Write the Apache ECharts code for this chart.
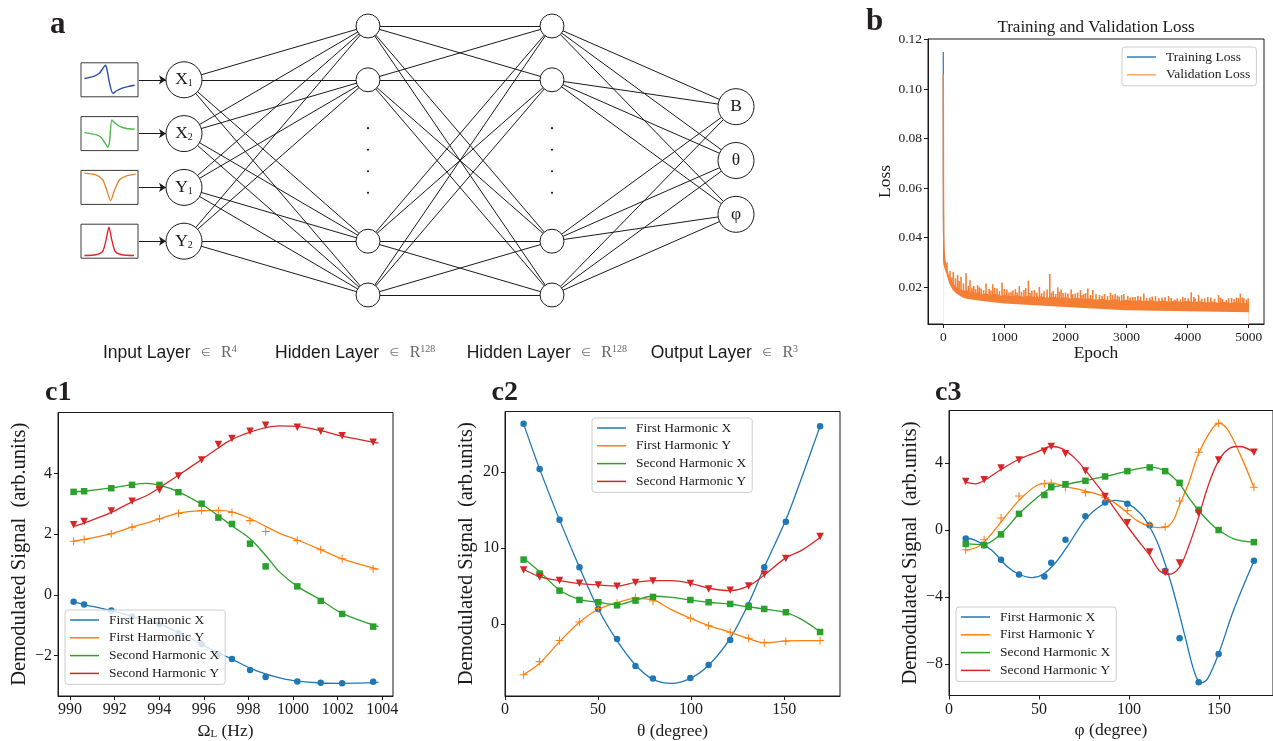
<!DOCTYPE html>
<html>
<head>
<meta charset="utf-8">
<script src="https://cdn.jsdelivr.net/npm/echarts@6/dist/echarts.min.js"></script>
<style>
  html, body { margin: 0; padding: 0; background: #fff; }
  #main { width: 1273px; height: 741px; }
</style>
</head>
<body>
<div id="main"></div>
<script>
// ---- panel a: network ----
const inputNames = ['X1', 'X2', 'Y1', 'Y2'];
const inputRows = [0, 1, 2, 3];
const hiddenRows = [-1, 0, 3, 4];
const outputNames = ['B', 'θ', 'φ'];
const outputRows = [0.5, 1.5, 2.5];
const ellipsisRows = [0.9, 1.3, 1.7, 2.1];
const layerLabels = [['Input Layer', '4'], ['Hidden Layer', '128'], ['Hidden Layer', '128'], ['Output Layer', '3']];

// input signal thumbnails (x 0..10, y as fraction of box height)
const iconX1 = [[0.6, 0.54], [2.35, 0.61], [3.2, 0.69], [3.9, 0.85], [4.3, 0.93], [4.5, 0.85], [5.0, 0.41], [5.6, 0.10], [6.2, 0.17], [7.1, 0.25], [8.2, 0.30], [9.4, 0.34]];
const iconX2 = [[0.6, 0.53], [2.6, 0.47], [3.5, 0.39], [4.3, 0.20], [4.7, 0.10], [5.0, 0.26], [5.4, 0.90], [5.9, 0.82], [6.8, 0.71], [8.0, 0.65], [9.4, 0.63]];
const iconY1 = [[0.6, 0.92], [2.6, 0.87], [3.8, 0.73], [4.5, 0.43], [5.2, 0.11], [5.9, 0.43], [6.8, 0.73], [8.0, 0.84], [9.6, 0.89]];
const iconY2 = [[0.6, 0.08], [2.6, 0.10], [3.8, 0.20], [4.4, 0.54], [4.9, 0.91], [5.4, 0.54], [6.0, 0.20], [7.1, 0.10], [9.3, 0.08]];

// ---- panel b: loss ----
const trainLoss = [[0, 0.115], [1, 0.09], [3, 0.05], [6, 0.036], [10, 0.031], [20, 0.029], [40, 0.026], [70, 0.022], [100, 0.0205], [150, 0.0185], [250, 0.0165], [400, 0.0152], [700, 0.0142], [1000, 0.0133], [1500, 0.0126], [2000, 0.0119], [2500, 0.0112], [3000, 0.0106], [4000, 0.0102], [5000, 0.0099]];
// upper edge of the dense part of the validation band
const valLossTop = [[0, 0.1063], [3, 0.06], [6, 0.042], [10, 0.036], [16, 0.034], [25, 0.031], [35, 0.0295], [45, 0.03], [55, 0.027], [70, 0.0265], [85, 0.0245], [100, 0.024], [120, 0.0225], [140, 0.0228], [160, 0.021], [185, 0.0212], [210, 0.0198], [240, 0.02], [270, 0.019], [300, 0.0192], [340, 0.0182], [380, 0.0186], [420, 0.0177], [470, 0.018], [520, 0.0172], [580, 0.0176], [640, 0.0168], [700, 0.0172], [780, 0.0165], [860, 0.0169], [940, 0.0162], [1020, 0.0166], [1100, 0.016], [1200, 0.0164], [1300, 0.0158], [1400, 0.0162], [1500, 0.0156], [1600, 0.016], [1700, 0.0154], [1800, 0.0158], [1900, 0.0152], [2000, 0.0156], [2100, 0.015], [2200, 0.0154], [2300, 0.0148], [2400, 0.0152], [2500, 0.0146], [2600, 0.015], [2700, 0.0144], [2800, 0.0148], [2900, 0.0142], [3000, 0.0146], [3100, 0.0141], [3200, 0.0145], [3300, 0.014], [3400, 0.0144], [3500, 0.0139], [3600, 0.0143], [3700, 0.0138], [3800, 0.0142], [3900, 0.0137], [4000, 0.0141], [4100, 0.0136], [4200, 0.014], [4300, 0.0135], [4400, 0.0139], [4500, 0.0134], [4600, 0.0138], [4700, 0.0133], [4800, 0.0137], [4900, 0.0132], [5000, 0.0134]];
// isolated spikes of the validation loss
const valLossSpikes = [[60, 0.030], [110, 0.0265], [140, 0.024], [164, 0.0262], [200, 0.0235], [235, 0.0249], [260, 0.0225], [290, 0.0242], [330, 0.0215], [372, 0.0256], [410, 0.0205], [437, 0.0228], [470, 0.0198], [500, 0.0205], [530, 0.0192], [563, 0.0208], [590, 0.0199], [620, 0.0195], [660, 0.0188], [699, 0.0215], [750, 0.0192], [780, 0.0186], [809, 0.0212], [840, 0.0197], [880, 0.0195], [920, 0.0184], [962, 0.0219], [1000, 0.0192], [1040, 0.019], [1075, 0.0178], [1109, 0.0181], [1140, 0.0186], [1180, 0.0192], [1210, 0.0178], [1245, 0.0204], [1280, 0.0182], [1320, 0.0188], [1350, 0.0196], [1393, 0.0226], [1420, 0.0176], [1450, 0.0185], [1492, 0.0188], [1530, 0.0178], [1573, 0.0201], [1610, 0.0175], [1650, 0.0183], [1700, 0.019], [1743, 0.0253], [1770, 0.0178], [1800, 0.0185], [1840, 0.0172], [1874, 0.0199], [1900, 0.0181], [1929, 0.019], [1960, 0.0176], [2000, 0.0178], [2040, 0.0174], [2093, 0.019], [2120, 0.0171], [2160, 0.0175], [2200, 0.0178], [2246, 0.0188], [2270, 0.0168], [2300, 0.0172], [2330, 0.0176], [2366, 0.0195], [2410, 0.0168], [2448, 0.0188], [2500, 0.0172], [2557, 0.0168], [2600, 0.0165], [2640, 0.0172], [2690, 0.0164], [2737, 0.0177], [2770, 0.0168], [2813, 0.0172], [2850, 0.0166], [2880, 0.0162], [2920, 0.0168], [2956, 0.0172], [3021, 0.0165], [3060, 0.0158], [3100, 0.016], [3140, 0.016], [3185, 0.0164], [3230, 0.0162], [3283, 0.0174], [3330, 0.0156], [3380, 0.0158], [3420, 0.0162], [3474, 0.0164], [3530, 0.0155], [3580, 0.0158], [3630, 0.016], [3688, 0.0164], [3730, 0.0156], [3786, 0.015], [3830, 0.0155], [3879, 0.015], [3920, 0.016], [3960, 0.0156], [4010, 0.0155], [4059, 0.0179], [4100, 0.016], [4120, 0.0155], [4179, 0.0168], [4230, 0.0154], [4278, 0.0155], [4330, 0.016], [4380, 0.0158], [4440, 0.0153], [4507, 0.0168], [4540, 0.0158], [4570, 0.0152], [4633, 0.0148], [4670, 0.0155], [4720, 0.0156], [4760, 0.0152], [4800, 0.0158], [4830, 0.0156], [4862, 0.0174], [4900, 0.0158], [4920, 0.0155], [4961, 0.015], [4990, 0.0155]];
// lower edge of the validation band
const valLossFloor = [[0, 0.029], [16, 0.029], [50, 0.0255], [98, 0.0215], [150, 0.019], [208, 0.0175], [317, 0.0158], [400, 0.0152], [672, 0.0143], [1000, 0.0134], [1500, 0.0127], [2000, 0.012], [2530, 0.0113], [3000, 0.0107], [4000, 0.0103], [5000, 0.0099]];
const lossTicksX = [0, 1000, 2000, 3000, 4000, 5000];
const lossTicksY = [0.02, 0.04, 0.06, 0.08, 0.10, 0.12];

// ---- panel c1: vs Larmor frequency ----
const c1Freq = [990.16, 990.63, 991.85, 992.78, 994.01, 994.86, 995.90, 996.65, 997.26, 998.07, 998.77, 1000.19, 1001.24, 1002.20, 1003.59];
const c1X1 = [-0.23, -0.32, -0.52, -0.72, -0.96, -1.27, -1.63, -1.96, -2.12, -2.48, -2.71, -2.86, -2.90, -2.92, -2.87];
const c1Y1 = [1.77, 1.83, 2.02, 2.23, 2.51, 2.69, 2.78, 2.78, 2.72, 2.45, 2.09, 1.79, 1.49, 1.19, 0.85];
const c1X2 = [3.40, 3.42, 3.52, 3.63, 3.63, 3.39, 3.01, 2.55, 2.34, 1.69, 0.94, 0.28, -0.20, -0.63, -1.05];
const c1Y2 = [2.31, 2.42, 2.77, 3.09, 3.46, 3.92, 4.45, 4.96, 5.16, 5.40, 5.60, 5.53, 5.40, 5.25, 5.04];
const c1FitFreq = [990.16, 990.63, 991.85, 992.78, 993.42, 994.01, 994.86, 995.90, 996.65, 997.26, 998.07, 998.77, 999.40, 1000.19, 1001.24, 1002.20, 1003.83];
const c1FitX1 = [-0.23, -0.32, -0.52, -0.71, -0.85, -0.96, -1.25, -1.63, -1.92, -2.12, -2.42, -2.61, -2.74, -2.85, -2.91, -2.92, -2.89];
const c1FitY1 = [1.77, 1.83, 2.02, 2.24, 2.37, 2.51, 2.70, 2.78, 2.79, 2.74, 2.52, 2.26, 2.03, 1.81, 1.49, 1.19, 0.84];
const c1FitX2 = [3.40, 3.42, 3.53, 3.64, 3.68, 3.62, 3.40, 2.99, 2.61, 2.28, 1.85, 1.30, 0.75, 0.28, -0.17, -0.61, -1.05];
const c1FitY2 = [2.26, 2.37, 2.72, 3.07, 3.27, 3.54, 3.95, 4.47, 4.85, 5.13, 5.37, 5.52, 5.58, 5.56, 5.42, 5.24, 5.01];

// ---- panel c2: vs theta ----
const c2Theta = [10, 18.6, 29.3, 40, 50.1, 60.2, 70.1, 79.5, 99.6, 109.4, 121, 130.9, 139.3, 150.9, 169.3];
const c2X1 = [26.30, 20.39, 13.70, 7.48, 2.0, -1.93, -5.47, -7.13, -7.05, -5.34, -2.06, 2.5, 7.48, 13.44, 26.0];
const c2Y1 = [-6.61, -4.90, -2.14, 0.31, 2.06, 2.76, 3.50, 3.06, 0.79, -0.18, -1.05, -1.84, -2.41, -2.23, -2.14];
const c2X2 = [8.49, 6.65, 4.42, 3.19, 2.89, 2.49, 3.11, 3.59, 3.19, 2.89, 2.67, 2.28, 2.01, 1.58, -1.01];
const c2Y2 = [7.13, 6.21, 5.73, 5.38, 5.16, 4.99, 5.47, 5.69, 5.34, 4.64, 4.46, 5.03, 6.56, 8.62, 11.51];
const c2FitTheta = [10, 18.6, 29.3, 40, 50.1, 60.2, 70.1, 79.5, 89.6, 99.6, 109.4, 121, 130.9, 139.3, 150.9, 159.8, 169.3];
const c2FitX1 = [26.30, 20.39, 13.70, 7.48, 2.01, -2.14, -5.34, -7.22, -7.75, -7.09, -5.38, -1.84, 2.76, 7.48, 13.70, 19.5, 26.0];
const c2FitY1 = [-6.61, -5.12, -2.28, 0.26, 1.97, 2.84, 3.41, 3.19, 1.88, 0.79, -0.18, -1.05, -1.88, -2.41, -2.19, -2.14, -2.14];
const c2FitX2 = [8.67, 6.91, 4.51, 3.28, 2.89, 2.58, 3.19, 3.68, 3.54, 3.19, 2.89, 2.63, 2.28, 2.01, 1.53, 0.57, -1.01];
const c2FitY2 = [7.22, 6.26, 5.73, 5.34, 5.16, 5.03, 5.51, 5.73, 5.73, 5.38, 4.73, 4.42, 5.03, 6.48, 8.71, 9.76, 11.38];

// ---- panel c3: vs phi ----
const c3Phi = [9.3, 19.5, 28.9, 38.9, 53.0, 56.8, 64.7, 75.8, 86.7, 99.1, 111.5, 120.1, 128.1, 138.7, 149.8, 169.4];
const c3X1 = [-0.50, -0.90, -1.77, -2.66, -2.78, -1.95, -0.58, 0.83, 1.65, 1.57, 0.28, -2.45, -6.46, -9.09, -7.40, -1.83];
const c3Y1 = [-1.17, -0.58, 0.72, 2.03, 2.76, 2.80, 2.54, 2.25, 1.93, 1.17, 0.32, 0.20, 1.73, 4.65, 6.38, 2.56];
const c3X2 = [-0.83, -0.89, -0.26, 0.97, 2.09, 2.56, 2.74, 2.94, 3.20, 3.52, 3.74, 3.52, 2.82, 1.21, 0.00, -0.72];
const c3Y2 = [2.90, 3.00, 3.70, 4.19, 4.71, 4.99, 4.55, 3.52, 2.01, 0.44, -1.31, -2.54, -1.97, 1.01, 4.19, 4.65];
const c3FitX1 = [[9.3, -0.46], [14.7, -0.62], [23.7, -1.21], [32.6, -2.21], [38.9, -2.64], [46.1, -2.84], [52.3, -2.64], [59.5, -1.91], [66.7, -0.82], [75.8, 0.64], [84.6, 1.47], [92.7, 1.77], [99.1, 1.61], [106.5, 0.97], [111.5, 0.18], [116.8, -1.01], [124.0, -3.40], [131.2, -6.38], [136.6, -8.57], [140.1, -9.13], [143.7, -8.87], [149.8, -7.38], [158.1, -4.79], [169.4, -1.85]];
const c3FitY1 = [[9.3, -1.21], [16.5, -0.97], [23.7, -0.22], [28.9, 0.48], [38.9, 1.77], [48.7, 2.66], [56.8, 2.80], [64.7, 2.60], [75.8, 2.33], [86.7, 1.97], [95.3, 1.37], [104.3, 0.58], [111.5, 0.22], [118.6, 0.14], [124.0, 0.48], [128.1, 1.50], [133.0, 2.76], [138.7, 4.59], [145.5, 5.94], [149.8, 6.38], [154.5, 6.04], [161.6, 4.55], [169.4, 2.56]];
const c3FitX2 = [[9.3, -0.82], [19.5, -0.85], [28.9, -0.22], [38.9, 0.97], [47.0, 1.77], [53.0, 2.27], [56.8, 2.52], [64.7, 2.72], [75.8, 2.96], [86.7, 3.20], [99.1, 3.52], [111.5, 3.76], [120.1, 3.52], [128.1, 2.76], [133.0, 1.97], [138.7, 1.17], [145.5, 0.38], [149.8, 0.00], [158.1, -0.52], [169.4, -0.72]];
const c3FitY2 = [[9.3, 2.86], [14.7, 2.76], [19.5, 2.96], [28.9, 3.62], [38.9, 4.23], [48.7, 4.65], [56.8, 4.99], [63.1, 4.85], [70.3, 4.25], [77.4, 3.36], [86.7, 2.07], [95.3, 0.78], [104.3, -0.52], [111.5, -1.51], [116.8, -2.41], [122.2, -2.64], [128.1, -2.21], [133.0, -1.01], [138.7, 0.78], [143.7, 2.56], [149.8, 4.15], [156.3, 4.91], [161.6, 4.99], [169.4, 4.65]];

// ---- styling ----
const SERIF = '"Liberation Serif", "Times New Roman", serif';
const SANS = '"Liberation Sans", Arial, sans-serif';
const INK = '#1a1a1a';
const C_BLUE = '#1f77b4', C_ORANGE = '#ff7f0e', C_GREEN = '#2ca02c', C_RED = '#d62728';
const VAL_ORANGE = '#f47f34';
const seriesNames = ['First Harmonic X', 'First Harmonic Y', 'Second Harmonic X', 'Second Harmonic Y'];
const seriesColors = [C_BLUE, C_ORANGE, C_GREEN, C_RED];
const PLUS = 'path://M4.35,0h1.3v4.35h4.35v1.3h-4.35v4.35h-1.3v-4.35h-4.35v-1.3h4.35z';
const markers = [
  { symbol: 'circle', size: 6.5, rotate: 0 },
  { symbol: PLUS, size: 8, rotate: 0 },
  { symbol: 'rect', size: 6.5, rotate: 0 },
  { symbol: 'triangle', size: 7.5, rotate: 180 }
];
const iconColors = ['#2a4bb0', '#4cb848', '#e8852a', '#e3262a'];
const ARROW_X = -0.245;   // where the input arrows start, in layer units

const minus = v => String(v).replace('-', '\u2212');
const rowPx = r => 26 + (r + 1) * 53.8;

const chart = echarts.init(document.getElementById('main'));

function valueAxis(gridIndex, min, max, ticks, fontSize, fmt, extra) {
  return Object.assign({
    gridIndex: gridIndex, type: 'value', min: min, max: max, z: 5,
    axisLine: { show: true, onZero: false, lineStyle: { color: INK, width: 1 } },
    axisTick: { show: true, inside: false, length: 4, customValues: ticks, lineStyle: { color: INK, width: 1 } },
    axisLabel: { customValues: ticks, color: INK, fontFamily: SERIF, fontSize: fontSize, margin: 6, formatter: fmt || minus },
    splitLine: { show: false }
  }, extra || {});
}
function hiddenAxis(gridIndex, min, max, inverse) {
  return { gridIndex: gridIndex, type: 'value', min: min, max: max, inverse: !!inverse, show: false };
}
function axisName(name, gap, size, rich) {
  return {
    name: name, nameLocation: 'middle', nameGap: gap,
    nameTextStyle: { fontFamily: SERIF, fontSize: size, color: INK, rich: rich }
  };
}

// grids: 0 network, 1-4 thumbnails, 5 loss, 6-8 c panels
const grids = [{ left: 92, top: 26, width: 644, height: 269, show: false }];
inputRows.forEach(r => grids.push({ left: 81, top: rowPx(r) - 17, width: 57, height: 34, show: true, borderColor: '#3a3a3a', borderWidth: 1 }));
grids.push({ left: 928, top: 39, width: 336, height: 285, show: true, borderColor: INK, borderWidth: 1 });
grids.push({ left: 58, top: 412.5, width: 335, height: 285.5, show: true, borderColor: INK, borderWidth: 1 });
grids.push({ left: 505, top: 411.5, width: 335, height: 284.5, show: true, borderColor: INK, borderWidth: 1 });
grids.push({ left: 949, top: 410.5, width: 335, height: 285, show: true, borderColor: INK, borderWidth: 1 });

const xAxes = [hiddenAxis(0, -0.5, 3)];
const yAxes = [hiddenAxis(0, -1, 4, true)];
for (let i = 1; i <= 4; i++) { xAxes.push(hiddenAxis(i, 0, 10)); yAxes.push(hiddenAxis(i, 0, 1)); }

const cYName = axisName('Demodulated Signal  (arb.units)', 28, 20.5);
xAxes.push(valueAxis(5, -250, 5250, lossTicksX, 13.5, null, axisName('Epoch', 19, 17.5)));
yAxes.push(valueAxis(5, 0.0051, 0.1203, lossTicksY, 13.5, v => v.toFixed(2), axisName('Loss', 32, 17.5)));
xAxes.push(valueAxis(6, 989.46, 1004.48, [990, 992, 994, 996, 998, 1000, 1002, 1004], 16, null,
  axisName('{a|Ω}{s|L}{a| (Hz)}', 26, 17.5, {
    a: { fontFamily: SERIF, fontSize: 17.5, color: INK },
    s: { fontFamily: SERIF, fontSize: 11, color: INK, verticalAlign: 'bottom' }
  })));
yAxes.push(valueAxis(6, -3.34, 6.02, [-2, 0, 2, 4], 16, null, cYName));
xAxes.push(valueAxis(7, 0, 180, [0, 50, 100, 150], 16, null, axisName('θ (degree)', 26, 17.5)));
yAxes.push(valueAxis(7, -9.41, 27.92, [0, 10, 20], 16, null, cYName));
xAxes.push(valueAxis(8, 0, 180, [0, 50, 100, 150], 16, null, axisName('φ (degree)', 26, 17.5)));
yAxes.push(valueAxis(8, -9.88, 7.14, [-8, -4, 0, 4], 16, null, cYName));

// network graph
const nodes = [], links = [];
inputNames.forEach((nm, i) => {
  nodes.push({ name: 'src' + i, value: [ARROW_X, inputRows[i]], symbolSize: 1, itemStyle: { opacity: 0 } });
  nodes.push({ name: 'in' + i, value: [0, inputRows[i]], symbolSize: 36,
    label: { show: true, formatter: '{v|' + nm.charAt(0) + '}{s|' + nm.slice(1) + '}' } });
  links.push({ source: 'src' + i, target: 'in' + i, symbol: ['none', 'arrow'], symbolSize: [0, 7] });
});
[1, 2].forEach(layer => {
  hiddenRows.forEach((r, j) => nodes.push({ name: 'h' + layer + '_' + j, value: [layer, r], symbolSize: 24 }));
  ellipsisRows.forEach((r, d) => nodes.push({ name: 'dot' + layer + '_' + d, value: [layer, r], symbolSize: 2.2,
    itemStyle: { color: INK, borderWidth: 0 } }));
});
outputNames.forEach((nm, k) => nodes.push({ name: 'out' + k, value: [3, outputRows[k]], symbolSize: 36,
  label: { show: true, formatter: '{v|' + nm + '}' } }));
inputNames.forEach((n, i) => hiddenRows.forEach((r, j) => links.push({ source: 'in' + i, target: 'h1_' + j })));
hiddenRows.forEach((a, i) => hiddenRows.forEach((b, j) => links.push({ source: 'h1_' + i, target: 'h2_' + j })));
hiddenRows.forEach((a, j) => outputNames.forEach((b, k) => links.push({ source: 'h2_' + j, target: 'out' + k })));

const series = [{
  type: 'graph', coordinateSystem: 'cartesian2d', xAxisIndex: 0, yAxisIndex: 0, layout: 'none',
  symbol: 'circle', data: nodes, links: links, silent: true,
  itemStyle: { color: '#fff', borderColor: INK, borderWidth: 1 },
  lineStyle: { color: INK, width: 1, opacity: 1, curveness: 0 },
  label: {
    show: false, position: 'inside', color: INK, fontFamily: SERIF, fontSize: 17,
    rich: {
      v: { fontFamily: SERIF, fontSize: 17.5, color: INK },
      s: { fontFamily: SERIF, fontSize: 10, color: INK, verticalAlign: 'bottom' }
    }
  },
  emphasis: { disabled: true }
}];

[iconX1, iconX2, iconY1, iconY2].forEach((curve, i) => series.push({
  type: 'line', xAxisIndex: i + 1, yAxisIndex: i + 1, data: curve, smooth: 0.25, showSymbol: false, silent: true,
  lineStyle: { color: iconColors[i], width: 1.4 }
}));

// loss curves: blue under the orange band; spikes as hairline bars; a white floor trims the band's lower edge
series.push({
  type: 'line', name: 'Training Loss', xAxisIndex: 5, yAxisIndex: 5, data: trainLoss, showSymbol: false, silent: true,
  color: C_BLUE, lineStyle: { color: C_BLUE, width: 1.2 }, z: 2
});
series.push({
  type: 'line', name: 'Validation Loss', xAxisIndex: 5, yAxisIndex: 5, data: valLossTop, showSymbol: false, silent: true,
  color: VAL_ORANGE, lineStyle: { color: VAL_ORANGE, width: 1.5 },
  areaStyle: { color: VAL_ORANGE, opacity: 1, origin: 'start' }, z: 3
});
series.push({
  type: 'bar', name: 'Validation spikes', xAxisIndex: 5, yAxisIndex: 5, data: valLossSpikes, barWidth: 1.6,
  silent: true, itemStyle: { color: VAL_ORANGE }, z: 3
});
series.push({
  type: 'line', name: 'floor', xAxisIndex: 5, yAxisIndex: 5, data: valLossFloor, showSymbol: false, silent: true,
  lineStyle: { width: 0 }, areaStyle: { color: '#ffffff', opacity: 1, origin: 'start' }, z: 4
});

function panelSeries(axisIdx, xs, pts, fitXs, fits) {
  seriesNames.forEach((name, k) => {
    const fitData = fitXs ? fitXs.map((x, i) => [x, fits[k][i]]) : fits[k];
    series.push({
      type: 'line', name: name, xAxisIndex: axisIdx, yAxisIndex: axisIdx, data: fitData, smooth: 0.35,
      showSymbol: false, silent: true, color: seriesColors[k],
      lineStyle: { color: seriesColors[k], width: 1.3 }, z: 3
    });
    series.push({
      type: 'scatter', name: name + ' data', xAxisIndex: axisIdx, yAxisIndex: axisIdx, silent: true,
      data: xs.map((x, i) => [x, pts[k][i]]),
      symbol: markers[k].symbol, symbolSize: markers[k].size, symbolRotate: markers[k].rotate,
      itemStyle: { color: seriesColors[k], opacity: 1 }, z: 3
    });
  });
}
panelSeries(6, c1Freq, [c1X1, c1Y1, c1X2, c1Y2], c1FitFreq, [c1FitX1, c1FitY1, c1FitX2, c1FitY2]);
panelSeries(7, c2Theta, [c2X1, c2Y1, c2X2, c2Y2], c2FitTheta, [c2FitX1, c2FitY1, c2FitX2, c2FitY2]);
panelSeries(8, c3Phi, [c3X1, c3Y1, c3X2, c3Y2], null, [c3FitX1, c3FitY1, c3FitX2, c3FitY2]);

function boxedLegend(left, top, data) {
  return {
    left: left, top: top, orient: 'vertical', data: data, icon: 'rect', itemWidth: 29, itemHeight: 1.5,
    itemGap: 3.8, selectedMode: false,
    textStyle: { fontFamily: SERIF, fontSize: 13.5, color: INK, padding: [0, 0, 0, 5] },
    backgroundColor: 'rgba(255,255,255,0.8)', borderColor: '#cccccc', borderWidth: 1, borderRadius: 3,
    padding: [3, 6, 4, 5]
  };
}
const legends = [
  boxedLegend(1122, 47, [{ name: 'Training Loss', itemStyle: { color: '#2f7fbf' } }, { name: 'Validation Loss', itemStyle: { color: '#ffa55c' } }]),
  boxedLegend(65, 610, seriesNames),
  boxedLegend(592, 418, seriesNames),
  boxedLegend(956, 607, seriesNames)
];

// text: panel letters, layer captions, loss title
const graphic = [];
[['a', 50, 24.5, 31], ['b', 866, 21.5, 31], ['c1', 45, 393.2, 28], ['c2', 491.5, 393.2, 28], ['c3', 935, 393.2, 28]]
  .forEach(([t, x, y, s]) => graphic.push({
    type: 'text', silent: true,
    style: { text: t, x: x, y: y, fontFamily: SERIF, fontWeight: 'bold', fontSize: s, fill: '#231f20',
      verticalAlign: 'middle', textVerticalAlign: 'middle' }
  }));
const layerX = [103, 275, 466.7, 650.7];
layerLabels.forEach(([t, sup], i) => graphic.push({
  type: 'text', silent: true,
  style: {
    x: layerX[i], y: 353, verticalAlign: 'middle', textVerticalAlign: 'middle',
    text: '{a|' + t + '}{b|   ∈   }{c|R}{d|' + sup + '}',
    rich: {
      a: { fontFamily: SANS, fontSize: 17.5, fill: INK, color: INK },
      b: { fontFamily: '"DejaVu Sans", sans-serif', fontSize: 11, fill: '#777', color: '#777' },
      c: { fontFamily: SERIF, fontSize: 16, fill: '#666', color: '#666' },
      d: { fontFamily: SERIF, fontSize: 10, fill: '#666', color: '#666', verticalAlign: 'top' }
    }
  }
}));
graphic.push({
  type: 'text', silent: true,
  style: { text: 'Training and Validation Loss', x: 1096, y: 28, align: 'center', textAlign: 'center',
    verticalAlign: 'middle', textVerticalAlign: 'middle', fontFamily: SERIF, fontSize: 17, fill: INK }
});

chart.setOption({
  animation: false,
  textStyle: { fontFamily: SERIF },
  grid: grids,
  xAxis: xAxes,
  yAxis: yAxes,
  legend: legends,
  graphic: graphic,
  series: series
});
</script>
</body>
</html>
